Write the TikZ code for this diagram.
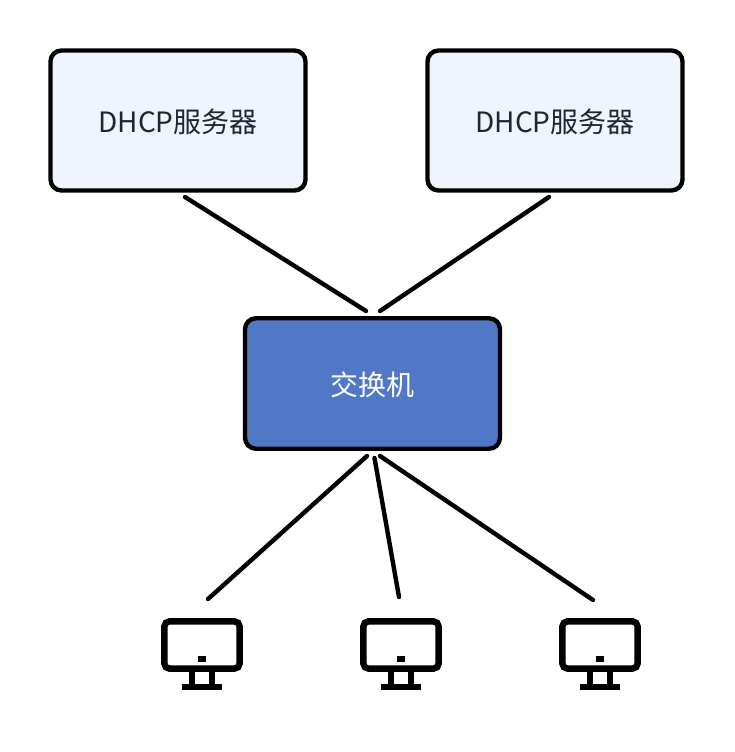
\documentclass[tikz,border=0pt]{standalone}
\usepackage{fontspec}
\newfontfamily\cjk{Noto Sans CJK SC}
\definecolor{lightfill}{HTML}{EFF4FD}
\definecolor{bluefill}{HTML}{5078C6}
\definecolor{inkdark}{HTML}{1F2633}
\newcommand{\lowered}[1]{\raisebox{-12pt}[0pt][0pt]{#1}}
\tikzset{
  serverbox/.style={draw=black,line width=4.4pt,rounded corners=11pt,fill=lightfill,text=inkdark,minimum width=255pt,minimum height=140pt,inner sep=0pt,font=\cjk\fontsize{28}{30}\selectfont},
  switchbox/.style={draw=black,line width=4.4pt,rounded corners=11pt,fill=bluefill,text=white,minimum width=255pt,minimum height=130.500pt,inner sep=0pt,font=\cjk\fontsize{28}{30}\selectfont},
  link/.style={draw=black,line width=4.4pt,line cap=round},
  pics/monitor/.style={code={
    \draw[black,line width=6.4pt,rounded corners=5pt] (-37.6,-23.6) rectangle (37.6,23.6);
    \fill[black] (-4,11) rectangle (4,17);
    \fill[black] (-13,26) rectangle (-7,40);
    \fill[black] (7,26) rectangle (13,40);
    \fill[black] (-20,39) rectangle (20,45);
  }}
}
\begin{document}
\begin{tikzpicture}[x=1pt,y=-1pt]
\useasboundingbox[fill=white] (0,0) rectangle (734,752);
\node[serverbox] (s1) at (178,120.5) {\lowered{DHCP服务器}};
\node[serverbox] (s2) at (555,120.5) {\lowered{DHCP服务器}};
\node[switchbox] (sw) at (372.5,383.5) {\lowered{交换机}};
\pic (pc1) at (202,645) {monitor};
\pic (pc2) at (401,645) {monitor};
\pic (pc3) at (600,645) {monitor};
\coordinate (s1out) at (185,197);
\coordinate (s2out) at (549,197);
\coordinate (swinl) at (366,311);
\coordinate (swinr) at (380,311);
\coordinate (swoutl) at (367,456);
\coordinate (swoutm) at (374.500,458);
\coordinate (swoutr) at (380,456);
\coordinate (pc1in) at (208,599);
\coordinate (pc2in) at (399,597);
\coordinate (pc3in) at (593,600);
\draw[link] (s1out) -- (swinl);
\draw[link] (s2out) -- (swinr);
\draw[link] (swoutl) -- (pc1in);
\draw[link] (swoutm) -- (pc2in);
\draw[link] (swoutr) -- (pc3in);
\end{tikzpicture}
\end{document}
